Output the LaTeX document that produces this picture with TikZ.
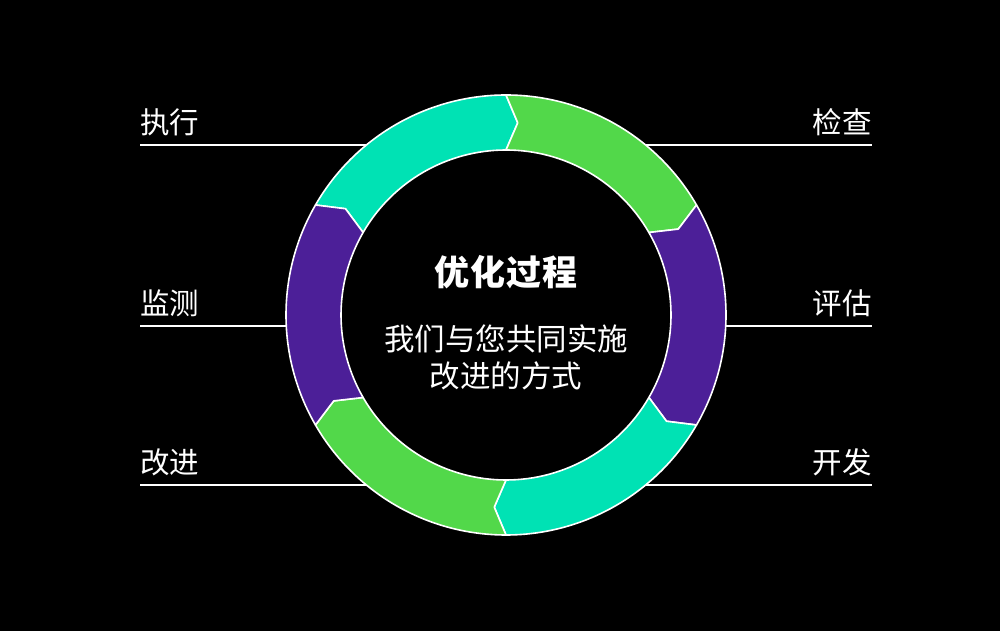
\documentclass[tikz,border=0pt]{standalone}
\usepackage{fontspec}
\setmainfont{Noto Sans CJK SC}
\usetikzlibrary{positioning}
\definecolor{ringteal}{RGB}{0,226,180}
\definecolor{ringgreen}{RGB}{82,216,74}
\definecolor{ringpurple}{RGB}{76,31,152}

\begin{document}
\begin{tikzpicture}[x=1pt,y=1pt,
  seg/.style={draw=white,line width=1.6pt,line join=round,fill=#1},
  rule/.style={draw=white,line width=1.6pt},
  lab/.style={text=white,inner sep=0pt,font=\fontsize{29.5}{34}\selectfont}]
  \fill[black] (0,0) rectangle (1000,631);
  \useasboundingbox (0,0) rectangle (1000,631);
  \coordinate (O) at (506,316);
  % guide lines behind the ring
  \coordinate (l1) at (140,486); \coordinate (r1) at (872,486);
  \coordinate (l2) at (140,305); \coordinate (m2a) at (306,305);
  \coordinate (m2b) at (706,305); \coordinate (r2) at (872,305);
  \coordinate (l3) at (140,146); \coordinate (r3) at (872,146);
  \draw[rule] (l1) -- (r1);
  \draw[rule] (l2) -- (m2a);
  \draw[rule] (m2b) -- (r2);
  \draw[rule] (l3) -- (r3);
  % ring of six arrow segments
  \foreach \a/\c in {150/ringteal,90/ringgreen,30/ringpurple,-30/ringteal,-90/ringgreen,-150/ringpurple}
    \draw[seg=\c,shift={(O)}] (\a:220pt) arc[start angle=\a,end angle=\a-60,radius=220pt]
      -- (\a-63.5:192.5pt) -- (\a-60:165pt) arc[start angle=\a-60,end angle=\a,radius=165pt]
      -- (\a-3.5:192.5pt) -- cycle;
  % labels
  \node[lab,above right=9pt and 0pt of l1] (exec) {执行};
  \node[lab,above right=9pt and 0pt of l2] (monitor) {监测};
  \node[lab,above right=9pt and 0pt of l3] (improve) {改进};
  \node[lab,above left=9pt and 0pt of r1] (check) {检查};
  \node[lab,above left=9pt and 0pt of r2] (assess) {评估};
  \node[lab,above left=9pt and 0pt of r3] (develop) {开发};
  % centre text
  \node[text=white,inner sep=0pt,font=\bfseries\fontsize{35}{40}\selectfont\addfontfeatures{LetterSpace=3}] (title) at (506,359) {优化过程};
  \node[text=white,inner sep=0pt,align=center,font=\fontsize{30.5}{37}\selectfont,below=35pt of title] (sub) {我们与您共同实施\\改进的方式};
\end{tikzpicture}
\end{document}
